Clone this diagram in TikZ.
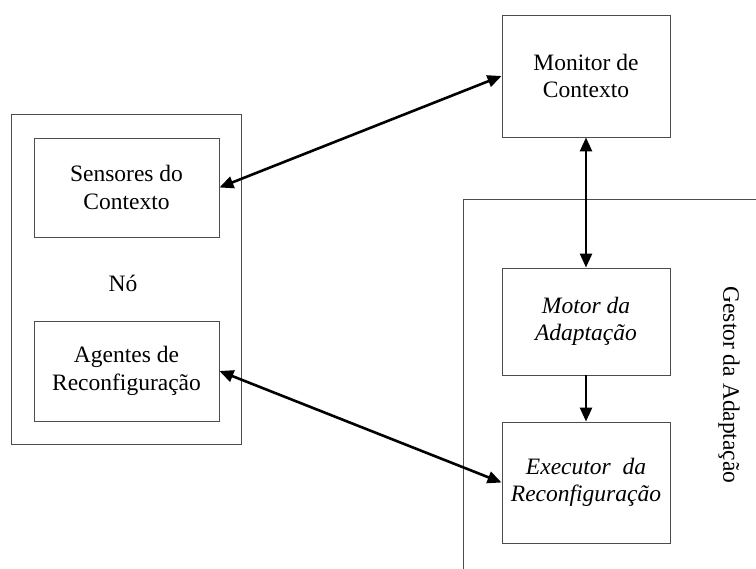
\documentclass[tikz,border=0pt]{standalone}
\usepackage{fontspec}
\setmainfont{Liberation Serif}
\usetikzlibrary{arrows.meta}
\tikzset{
  box/.style={draw=black!70, line width=0.9pt, align=center, inner sep=0pt,
    font=\fontsize{23.5}{27.5}\selectfont},
  frame/.style={draw=black!70, line width=0.9pt},
  conn/.style={line width=2.6pt, {Triangle[length=14pt,width=12pt]}-{Triangle[length=14pt,width=12pt]}},
  conn1/.style={line width=2.6pt, -{Triangle[length=14pt,width=12pt]}},
  lbl/.style={font=\fontsize{23.5}{27.5}\selectfont}
}
\begin{document}
\begin{tikzpicture}[x=1pt,y=-1pt]
\useasboundingbox (0,0) rectangle (756,569);
% outer node box
\node[box, minimum width=230pt, minimum height=330pt] (no) at (126,279) {};
\node[lbl] (nolbl) at (123,283) {Nó};
\node[box, minimum width=185pt, minimum height=99pt] (sens) at (126.5,187.5) {Sensores do\\Contexto};
\node[box, minimum width=185pt, minimum height=100pt] (agen) at (126.5,371) {Agentes de\\Reconfiguração};
% monitor
\node[box, minimum width=168pt, minimum height=122pt] (mon) at (586,76) {Monitor de\\Contexto};
% gestor frame
\coordinate (g1) at (756,199);
\coordinate (g2) at (463,199);
\coordinate (g3) at (463,569);
\draw[frame] (g1) -- (g2) -- (g3);
\node[lbl, rotate=-90] (gest) at (729,385) {Gestor da Adaptação};
\node[box, minimum width=168pt, minimum height=107pt] (mot) at (586,321.5) {\itshape Motor da\\\itshape Adaptação};
\node[box, minimum width=168pt, minimum height=121pt] (exe) at (586,482.5) {\itshape Executor\ \ da\\\itshape Reconfiguração};
% connectors
\draw[conn] (sens.east) -- (mon.west);
\draw[conn] (agen.east) -- (exe.west);
\draw[conn] (mon.south) -- (mot.north);
\draw[conn1] (mot.south) -- (exe.north);
\end{tikzpicture}
\end{document}
